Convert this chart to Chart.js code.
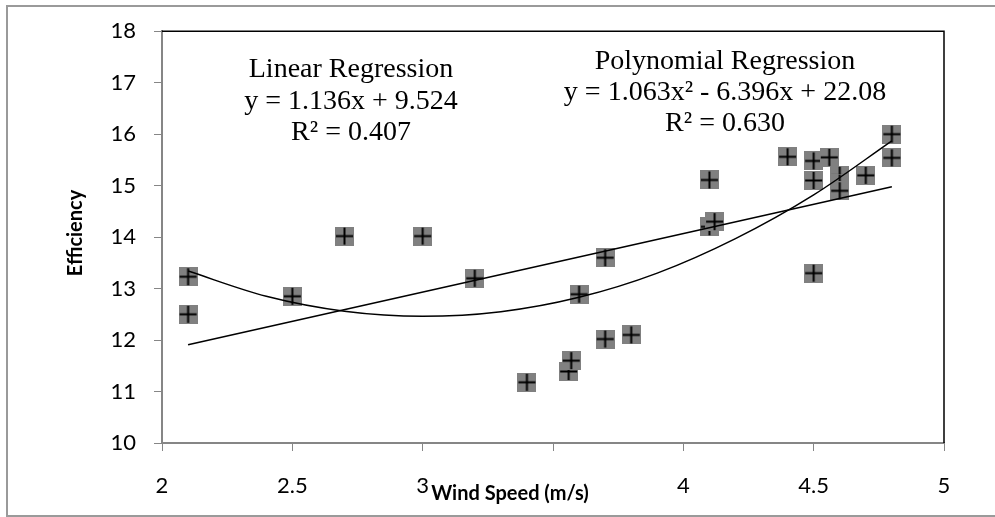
<!DOCTYPE html>
<html>
<head>
<meta charset="utf-8">
<script src="https://cdn.jsdelivr.net/npm/chart.js@4/dist/chart.umd.min.js"></script>
<style>
  html, body { margin: 0; padding: 0; background: #fff; }
  #wrap { width: 995px; height: 517px; }
</style>
</head>
<body>
<div id="wrap"><canvas id="chart" width="995" height="517"></canvas></div>
<script>
// measured data (wind speed m/s, efficiency)
const windSpeed = [2.1, 2.1, 2.5, 2.7, 3.0, 3.2, 3.4, 3.56, 3.57, 3.6, 3.7, 3.7, 3.8,
                   4.1, 4.1, 4.12, 4.4, 4.5, 4.5, 4.5, 4.56, 4.6, 4.6, 4.6, 4.7, 4.8, 4.8];
const efficiency = [13.23, 12.5, 12.85, 14.02, 14.02, 13.2, 11.18, 11.39, 11.6, 12.89, 13.6, 12.02, 12.1,
                    15.11, 14.2, 14.3, 15.56, 15.48, 15.1, 13.3, 15.55, 15.2, 15.05, 14.9, 15.2, 16.0, 15.54];

// trend lines
const linX = [2.1, 4.8];
const linY = [11.91, 14.98];
const polyX = [2.1, 2.4, 2.7, 3.0, 3.3, 3.6, 3.9, 4.2, 4.5, 4.8];
const polyY = [13.34, 12.85, 12.56, 12.46, 12.55, 12.83, 13.30, 13.97, 14.82, 15.87];

const xTicks = [2, 2.5, 3, 3.5, 4, 4.5, 5];
const yTicks = [10, 11, 12, 13, 14, 15, 16, 17, 18];

const linLabel = ['Linear Regression', 'y = 1.136x + 9.524', 'R² = 0.407'];
const polyLabel = ['Polynomial Regression', 'y = 1.063x² - 6.396x + 22.08', 'R² = 0.630'];

// grey square marker with black cross
const marker = document.createElement('canvas');
marker.width = 19; marker.height = 19;
(function(){
  const c = marker.getContext('2d');
  c.fillStyle = '#808080';
  c.fillRect(0, 0, 19, 19);
  c.strokeStyle = '#000';
  c.lineWidth = 2;
  c.beginPath();
  c.moveTo(1, 9.5); c.lineTo(18, 9.5);
  c.moveTo(9.5, 1); c.lineTo(9.5, 18);
  c.stroke();
})();

const toPts = (xs, ys) => xs.map((x, i) => ({x: x, y: ys[i]}));

const decor = {
  id: 'decor',
  beforeDraw(chart){
    const ctx = chart.ctx;
    ctx.save();
    ctx.fillStyle = '#fff';
    ctx.fillRect(0, 0, chart.width, chart.height);
    ctx.restore();
  },
  afterDraw(chart){
    const ctx = chart.ctx;
    const a = chart.chartArea;
    ctx.save();
    // outer frame
    ctx.strokeStyle = '#9a9a9a';
    ctx.lineWidth = 2;
    ctx.beginPath();
    ctx.moveTo(995, 6); ctx.lineTo(7, 6); ctx.lineTo(7, 516); ctx.lineTo(995, 516);
    ctx.stroke();
    // plot top/right border
    ctx.strokeStyle = '#000';
    ctx.lineWidth = 1.5;
    ctx.beginPath();
    ctx.moveTo(a.left, a.top); ctx.lineTo(a.right, a.top); ctx.lineTo(a.right, a.bottom);
    ctx.stroke();
    // axis titles (x title sits on a white box, hiding the label under it)
    ctx.font = 'bold 20px Lato';
    ctx.textAlign = 'center';
    ctx.textBaseline = 'middle';
    const tw = ctx.measureText('Wind Speed (m/s)').width;
    ctx.fillStyle = '#fff';
    ctx.fillRect(509 - tw / 2, 476, tw + 4, 32);
    ctx.fillStyle = '#000';
    ctx.fillText('Wind Speed (m/s)', 510, 494);
    ctx.save();
    ctx.translate(76, 233);
    ctx.rotate(-Math.PI / 2);
    ctx.fillText('Efficiency', 0, 0);
    ctx.restore();
    // regression labels
    ctx.font = '28px "Liberation Serif"';
    [70, 102, 133].forEach((y, i) => ctx.fillText(linLabel[i], 351, y));
    [62, 93, 124].forEach((y, i) => ctx.fillText(polyLabel[i], 725, y));
    ctx.restore();
  }
};

new Chart(document.getElementById('chart'), {
  type: 'scatter',
  data: {
    datasets: [
      { label: 'Linear', data: toPts(linX, linY), showLine: true, borderColor: '#000',
        borderWidth: 1.5, pointRadius: 0, order: 0 },
      { label: 'Polynomial', data: toPts(polyX, polyY), showLine: true, borderColor: '#000',
        borderWidth: 1.5, pointRadius: 0, tension: 0.4, cubicInterpolationMode: 'monotone', order: 0 },
      { label: 'Efficiency', data: toPts(windSpeed, efficiency), pointStyle: marker,
        pointRadius: 9, order: 1 }
    ]
  },
  options: {
    responsive: false,
    animation: false,
    layout: { padding: { left: 0, top: 29, right: 51, bottom: 0 } },
    plugins: { legend: { display: false }, tooltip: { enabled: false } },
    scales: {
      x: {
        type: 'linear', min: 2, max: 5,
        afterFit: s => { s.height = 74; },
        afterBuildTicks: s => { s.ticks = xTicks.map(v => ({value: v})); },
        grid: { drawOnChartArea: false, tickLength: 8, color: '#868686' },
        border: { color: '#868686', width: 2 },
        ticks: { color: '#000', padding: 22, font: { family: 'Lato', size: 22 },
                 callback: v => String(v) }
      },
      y: {
        type: 'linear', min: 10, max: 18,
        afterFit: s => { s.width = 162; },
        afterBuildTicks: s => { s.ticks = yTicks.map(v => ({value: v})); },
        grid: { drawOnChartArea: false, tickLength: 8, color: '#868686' },
        border: { color: '#868686', width: 2 },
        ticks: { color: '#000', padding: 18, font: { family: 'Lato', size: 22 },
                 callback: v => String(v) }
      }
    }
  },
  plugins: [decor]
});
</script>
</body>
</html>
